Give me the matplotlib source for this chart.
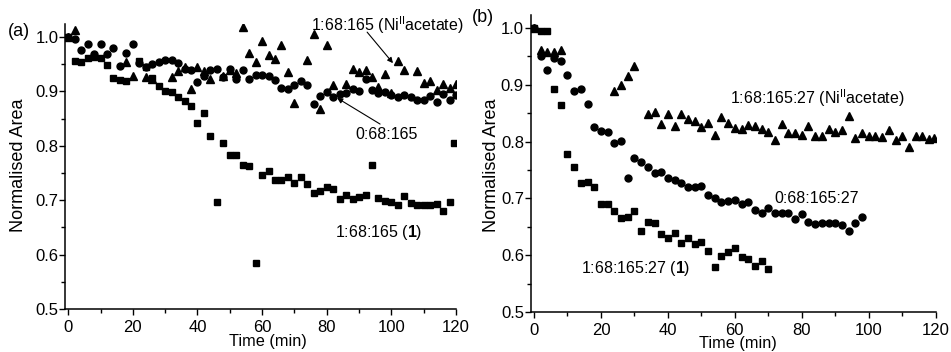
import matplotlib
matplotlib.use("Agg")
import matplotlib.pyplot as plt
from matplotlib.ticker import MultipleLocator

plt.rcParams["font.family"] = ["Liberation Sans", "DejaVu Sans"]
plt.rcParams["mathtext.fontset"] = "custom"
plt.rcParams["mathtext.rm"] = "Liberation Sans"
plt.rcParams["mathtext.bf"] = "Liberation Sans:bold"

# ---- panel (a) data ----
a_sq_t = [0, 2, 4, 6, 8, 10, 12, 14, 16, 18, 22, 24, 26, 28, 30, 32, 34, 36, 38, 40,
          42, 44, 46, 48, 50, 52, 54, 56, 58, 60, 62, 64, 66, 68, 70, 72, 74, 76, 78, 80,
          82, 84, 86, 88, 90, 92, 94, 96, 98, 100, 102, 104, 106, 108, 110, 112, 114, 116, 118, 119.5]
a_sq_v = [1.000, 0.956, 0.955, 0.962, 0.964, 0.961, 0.948, 0.924, 0.921, 0.919, 0.956, 0.945,
          0.925, 0.910, 0.901, 0.899, 0.889, 0.882, 0.874, 0.842, 0.861, 0.818, 0.697, 0.805,
          0.783, 0.783, 0.765, 0.763, 0.585, 0.746, 0.753, 0.738, 0.738, 0.742, 0.731, 0.743,
          0.730, 0.714, 0.716, 0.724, 0.720, 0.703, 0.710, 0.702, 0.705, 0.709, 0.765, 0.704,
          0.698, 0.697, 0.691, 0.708, 0.694, 0.691, 0.692, 0.692, 0.693, 0.681, 0.697, 0.805]

a_ci_t = [0, 2, 4, 6, 8, 10, 12, 14, 16, 18, 20, 22, 24, 26, 28, 30, 32, 34, 36, 38, 40,
          42, 44, 46, 48, 50, 52, 54, 56, 58, 60, 62, 64, 66, 68, 70, 72, 74, 76, 78, 80,
          82, 84, 86, 88, 90, 92, 94, 96, 98, 100, 102, 104, 106, 108, 110, 112, 114, 116, 118, 120]
a_ci_v = [1.000, 0.996, 0.976, 0.987, 0.968, 0.987, 0.969, 0.979, 0.947, 0.970, 0.988, 0.952,
          0.945, 0.950, 0.955, 0.958, 0.958, 0.953, 0.942, 0.939, 0.918, 0.928, 0.939, 0.941,
          0.927, 0.941, 0.922, 0.939, 0.923, 0.930, 0.930, 0.928, 0.921, 0.907, 0.905, 0.912,
          0.919, 0.911, 0.877, 0.892, 0.899, 0.890, 0.895, 0.898, 0.904, 0.901, 0.923, 0.903,
          0.898, 0.899, 0.893, 0.889, 0.893, 0.890, 0.885, 0.885, 0.892, 0.881, 0.895, 0.884, 0.893]

a_tr_t = [0, 2, 18, 20, 24, 26, 32, 34, 36, 38, 40, 42, 44, 48, 50, 52, 54, 56, 58, 60,
          62, 64, 66, 68, 70, 74, 76, 78, 80, 82, 86, 88, 90, 92, 94, 96, 98, 100, 102, 104,
          108, 110, 112, 114, 116, 118, 120]
a_tr_v = [1.000, 1.012, 0.954, 0.928, 0.927, 0.923, 0.927, 0.938, 0.945, 0.904, 0.945, 0.937,
          0.923, 0.928, 0.939, 0.934, 1.018, 0.970, 0.954, 0.992, 0.967, 0.960, 0.985, 0.936,
          0.879, 0.958, 1.005, 0.867, 0.985, 0.912, 0.914, 0.942, 0.936, 0.939, 0.926, 0.909,
          0.932, 0.898, 0.956, 0.939, 0.938, 0.915, 0.920, 0.903, 0.914, 0.906, 0.914]

# ---- panel (b) data ----
b_sq_t = [0, 2, 4, 6, 8, 10, 12, 14, 16, 18, 20, 22, 24, 26, 28, 30, 32, 34, 36, 38, 40,
          42, 44, 46, 48, 50, 52, 54, 56, 58, 60, 62, 64, 66, 68, 70]
b_sq_v = [1.000, 0.994, 0.995, 0.892, 0.864, 0.778, 0.756, 0.727, 0.729, 0.720, 0.691, 0.691,
          0.677, 0.666, 0.668, 0.677, 0.643, 0.658, 0.657, 0.637, 0.630, 0.639, 0.621, 0.630,
          0.620, 0.623, 0.607, 0.580, 0.599, 0.606, 0.612, 0.596, 0.593, 0.581, 0.589, 0.576]

b_ci_t = [0, 2, 4, 6, 8, 10, 12, 14, 16, 18, 20, 22, 24, 26, 28, 30, 32, 34, 36, 38, 40,
          42, 44, 46, 48, 50, 52, 54, 56, 58, 60, 62, 64, 66, 68, 70, 72, 74, 76, 78, 80,
          82, 84, 86, 88, 90, 92, 94, 96, 98]
b_ci_v = [1.000, 0.951, 0.927, 0.948, 0.942, 0.917, 0.890, 0.892, 0.867, 0.826, 0.819, 0.817,
          0.798, 0.802, 0.736, 0.771, 0.764, 0.756, 0.744, 0.747, 0.736, 0.732, 0.728, 0.720,
          0.720, 0.722, 0.706, 0.700, 0.693, 0.696, 0.697, 0.690, 0.694, 0.680, 0.674, 0.683,
          0.674, 0.674, 0.674, 0.663, 0.673, 0.659, 0.655, 0.656, 0.657, 0.657, 0.653, 0.643,
          0.657, 0.668]

b_tr_t = [0, 2, 4, 6, 8, 24, 26, 28, 30, 34, 36, 38, 40, 42, 44, 46, 48, 50, 52, 54, 56,
          58, 60, 62, 64, 66, 68, 70, 72, 74, 76, 78, 80, 82, 84, 86, 88, 90, 92, 94, 96,
          98, 100, 102, 104, 106, 108, 110, 112, 114, 116, 118, 119.5]
b_tr_v = [1.000, 0.961, 0.957, 0.958, 0.962, 0.890, 0.900, 0.915, 0.933, 0.849, 0.853, 0.831,
          0.849, 0.827, 0.849, 0.839, 0.837, 0.825, 0.833, 0.812, 0.843, 0.832, 0.824, 0.822,
          0.829, 0.827, 0.823, 0.817, 0.803, 0.831, 0.816, 0.815, 0.812, 0.827, 0.810, 0.810,
          0.822, 0.817, 0.820, 0.845, 0.806, 0.815, 0.810, 0.810, 0.809, 0.820, 0.803, 0.810,
          0.791, 0.810, 0.810, 0.804, 0.806]


def style_axis(ax, ylim_top):
    ax.set_xlim(-1, 120)
    ax.set_ylim(0.5, ylim_top)
    ax.xaxis.set_major_locator(MultipleLocator(20))
    ax.xaxis.set_minor_locator(MultipleLocator(10))
    ax.yaxis.set_major_locator(MultipleLocator(0.1))
    ax.yaxis.set_minor_locator(MultipleLocator(0.05))
    ax.yaxis.set_major_formatter(plt.FormatStrFormatter("%.1f"))
    ax.spines["top"].set_visible(False)
    ax.spines["right"].set_visible(False)
    for s in ("left", "bottom"):
        ax.spines[s].set_linewidth(1.1)
    ax.tick_params(which="major", direction="out", length=4.3, width=1.0, labelsize=12)
    ax.tick_params(which="minor", direction="out", length=2.6, width=1.0)
    ax.tick_params(axis="x", which="major", pad=3.5)
    ax.tick_params(axis="y", which="major", pad=0.5)
    ax.set_xlabel("Time (min)", fontsize=11.7)
    ax.set_ylabel("Normalised Area", fontsize=13)


fig = plt.figure(figsize=(9.51, 3.52), dpi=100)
ax1 = fig.add_axes([0.0683, 0.1222, 0.4112, 0.8097])
ax2 = fig.add_axes([0.558, 0.1136, 0.4259, 0.8438])

ax1.plot(a_sq_t, a_sq_v, "s", color="k", ms=4.3, ls="none")
ax1.plot(a_ci_t, a_ci_v, "o", color="k", ms=5, ls="none")
ax1.plot(a_tr_t, a_tr_v, "^", color="k", ms=5.5, ls="none")
style_axis(ax1, 1.024)
ax1.yaxis.set_label_coords(-0.097, 0.505)
ax1.xaxis.set_label_coords(0.519, -0.088)

ax2.plot(b_sq_t, b_sq_v, "s", color="k", ms=4.3, ls="none")
ax2.plot(b_ci_t, b_ci_v, "o", color="k", ms=5, ls="none")
ax2.plot(b_tr_t, b_tr_v, "^", color="k", ms=5.5, ls="none")
style_axis(ax2, 1.023)
ax2.yaxis.set_label_coords(-0.076, 0.495)
ax2.xaxis.set_label_coords(0.512, -0.081)

arrow = dict(arrowstyle="-|>", color="k", lw=0.8, mutation_scale=8, shrinkA=0, shrinkB=0)
ax1.text(75.2, 1.022, "1:68:165 (Ni$^{\\mathrm{II}}$acetate)", fontsize=11.5,
         ha="left", va="center", clip_on=False)
ax1.annotate("", xy=(100.5, 0.952), xytext=(92.5, 1.009), arrowprops=arrow)
ax1.annotate("", xy=(83.2, 0.888), xytext=(96.5, 0.840), arrowprops=arrow)
ax1.text(88.8, 0.820, "0:68:165", fontsize=11.5, ha="left", va="center")
ax1.text(82.6, 0.640, "1:68:165 ($\\mathbf{1}$)", fontsize=11.5, ha="left", va="center")

ax2.text(58.6, 0.877, "1:68:165:27 (Ni$^{\\mathrm{II}}$acetate)", fontsize=11.5, ha="left", va="center")
ax2.text(71.7, 0.699, "0:68:165:27", fontsize=11.5, ha="left", va="center")
ax2.text(14.0, 0.577, "1:68:165:27 ($\\mathbf{1}$)", fontsize=11.5, ha="left", va="center")

fig.text(19 / 951, 1 - 32 / 352, "(a)", fontsize=13, ha="center", va="center")
fig.text(483 / 951, 1 - 18 / 352, "(b)", fontsize=13, ha="center", va="center")

fig.savefig("out.png", dpi=100)
